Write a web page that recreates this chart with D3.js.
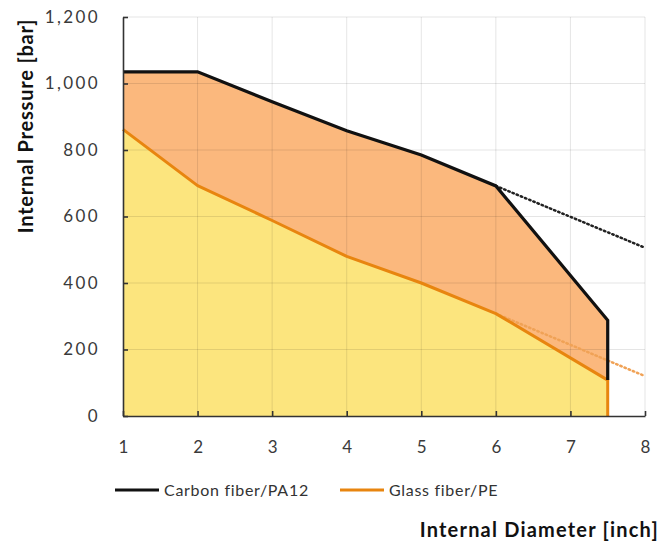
<!DOCTYPE html>
<html>
<head>
<meta charset="utf-8">
<script src="https://cdn.jsdelivr.net/npm/d3@7"></script>
<style>
  html, body { margin: 0; padding: 0; background: #fff; }
  svg { display: block; }
  text { font-family: Lato, "Open Sans", sans-serif; }
</style>
</head>
<body>
<svg id="chart" width="664" height="542"></svg>
<script>
// ---- data ----
const diameters = [1, 2, 3, 4, 5, 6, 7.5];
const carbonPressure = [1035, 1035, 945, 858, 785, 692, 288];
const glassPressure = [862, 693, 588, 480, 400, 308, 108];
const trendDiameters = [6, 8];
const carbonTrend = [692, 506];
const glassTrend = [308, 120];
const xTicks = [1, 2, 3, 4, 5, 6, 7, 8];
const yTicks = [0, 200, 400, 600, 800, 1000, 1200];
const seriesNames = ["Carbon fiber/PA12", "Glass fiber/PE"];

// ---- layout ----
const svg = d3.select("#chart");
const plotLeft = 123, plotRight = 645, plotTop = 17, plotBottom = 416;
const x = d3.scaleLinear().domain([1, 8]).range([plotLeft, plotRight]);
const y = d3.scaleLinear().domain([0, 1200]).range([plotBottom, plotTop]);

const rows = diameters.map((d, i) => ({ d, c: carbonPressure[i], g: glassPressure[i] }));

// fills
svg.append("path")
  .datum(rows)
  .attr("fill", "#FBB87D")
  .attr("d", d3.area().x(r => x(r.d)).y0(r => y(r.g)).y1(r => y(r.c)));
svg.append("path")
  .datum(rows)
  .attr("fill", "#FCE57E")
  .attr("d", d3.area().x(r => x(r.d)).y0(y(0)).y1(r => y(r.g)));

// grid (drawn over fills, translucent)
const grid = svg.append("g").attr("stroke", "#000").attr("stroke-opacity", 0.1).attr("stroke-width", 1);
xTicks.slice(1).forEach(t => grid.append("line").attr("x1", x(t)).attr("x2", x(t)).attr("y1", plotTop).attr("y2", plotBottom));
yTicks.slice(1).forEach(t => grid.append("line").attr("x1", plotLeft).attr("x2", plotRight).attr("y1", y(t)).attr("y2", y(t)));

// trend (dotted) lines
const line = d3.line().x(p => x(p[0])).y(p => y(p[1]));
svg.append("path")
  .datum(trendDiameters.map((d, i) => [d, glassTrend[i]]))
  .attr("fill", "none").attr("stroke", "#F0A256").attr("stroke-width", 2.5)
  .attr("stroke-dasharray", "1.5,3").attr("stroke-linecap", "round")
  .attr("d", line);
svg.append("path")
  .datum(trendDiameters.map((d, i) => [d, carbonTrend[i]]))
  .attr("fill", "none").attr("stroke", "#222").attr("stroke-width", 2.5)
  .attr("stroke-dasharray", "1.5,3").attr("stroke-linecap", "round")
  .attr("d", line);

// series lines
const last = rows[rows.length - 1];
const glassPts = rows.map(r => [r.d, r.g]).concat([[last.d, 0]]);
const carbonPts = rows.map(r => [r.d, r.c]).concat([[last.d, last.g]]);
svg.append("path")
  .datum(glassPts)
  .attr("fill", "none").attr("stroke", "#E8850F").attr("stroke-width", 3)
  .attr("stroke-linejoin", "round")
  .attr("d", line);
svg.append("path")
  .datum(carbonPts)
  .attr("fill", "none").attr("stroke", "#111").attr("stroke-width", 3.2)
  .attr("stroke-linejoin", "miter")
  .attr("d", line);

// axes
const yAxis = svg.append("g").attr("transform", `translate(${plotLeft},0)`)
  .call(d3.axisLeft(y).tickValues(yTicks).tickFormat(d3.format(",")).tickSizeInner(-5).tickSizeOuter(0).tickPadding(23));
const xAxis = svg.append("g").attr("transform", `translate(0,${plotBottom})`)
  .call(d3.axisBottom(x).tickValues(xTicks).tickFormat(d3.format("d")).tickSizeInner(-5).tickSizeOuter(0).tickPadding(25));
[yAxis, xAxis].forEach(a => {
  a.select(".domain").attr("stroke", "#333").attr("stroke-width", 1.6);
  a.selectAll(".tick line").attr("stroke", "#333").attr("stroke-width", 1.6);
  a.selectAll(".tick text").attr("fill", "#3a3a3a")
    .style("font-size", "17px").style("font-family", "Lato, sans-serif");
});
yAxis.selectAll(".tick text").style("letter-spacing", "2.4px");

// axis titles
svg.append("text")
  .attr("transform", `translate(33,126) rotate(-90)`)
  .attr("text-anchor", "middle")
  .style("font-size", "20px").style("font-weight", "bold").style("letter-spacing", "0.8px")
  .attr("fill", "#111")
  .text("Internal Pressure [bar]");
svg.append("text")
  .attr("x", 659).attr("y", 537)
  .attr("text-anchor", "end")
  .style("font-size", "20px").style("font-weight", "bold").style("letter-spacing", "1.2px")
  .attr("fill", "#111")
  .text("Internal Diameter [inch]");

// legend
const legendColors = ["#111", "#E8850F"];
const legendX = [115, 340];
seriesNames.forEach((name, i) => {
  const g = svg.append("g").attr("transform", `translate(${legendX[i]},490)`);
  g.append("line").attr("x1", 0).attr("x2", 44).attr("y1", 0).attr("y2", 0)
    .attr("stroke", legendColors[i]).attr("stroke-width", 3);
  g.append("text").attr("x", 49).attr("y", 6)
    .style("font-size", "16px").style("letter-spacing", "0.7px")
    .attr("fill", "#333").text(name);
});
</script>
</body>
</html>
